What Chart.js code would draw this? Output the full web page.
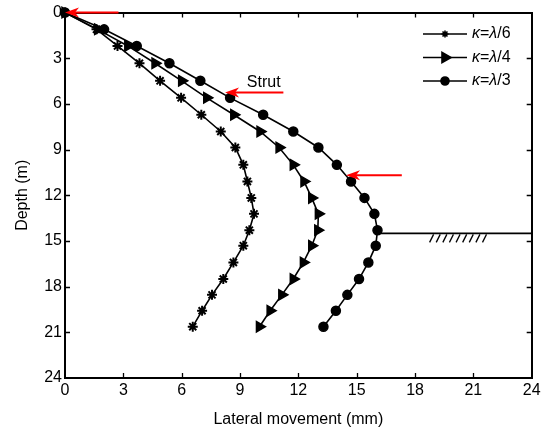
<!DOCTYPE html>
<html>
<head>
<meta charset="utf-8">
<script src="https://cdn.jsdelivr.net/npm/chart.js@4"></script>
<style>
  body { margin: 0; background: #fff; }
  #wrap { width: 548px; height: 429px; }
</style>
</head>
<body>
<div id="wrap"><canvas id="depthChart"></canvas></div>
<script>
// depth below ground (m) of each reading
const depth = [0, 1.10, 2.19, 3.33, 4.48, 5.60, 6.71, 7.81, 8.86, 10.0, 11.09, 12.17, 13.22, 14.29, 15.31, 16.41, 17.50, 18.54, 19.58, 20.63];
// lateral movement (mm) for each case
const kappa6 = [0, 1.62, 2.70, 3.83, 4.89, 5.97, 7.01, 8.01, 8.76, 9.17, 9.38, 9.58, 9.72, 9.48, 9.17, 8.66, 8.14, 7.56, 7.05, 6.57];
const kappa4 = [0, 1.68, 3.23, 4.63, 6.00, 7.29, 8.68, 10.03, 11.01, 11.74, 12.29, 12.69, 13.03, 13.00, 12.69, 12.26, 11.74, 11.15, 10.55, 10.00];
const kappa3 = [0, 2.01, 3.69, 5.37, 6.96, 8.49, 10.19, 11.74, 13.03, 13.98, 14.71, 15.40, 15.91, 16.07, 15.98, 15.60, 15.12, 14.52, 13.93, 13.29];
const seriesNames = ['/6', '/4', '/3'];
const axisTicks = [0, 3, 6, 9, 12, 15, 18, 21, 24];

// excavation base line
const groundDepth = 14.5;
const groundX = [16.07, 24];
// strut arrows: [from x, to x, depth]
const struts = [[2.75, 0, 0], [11.23, 8.23, 5.24], [17.32, 14.45, 10.69]];

const FONT = '"Liberation Sans", Arial, sans-serif';
const toPts = xs => xs.map((v, i) => ({ x: v, y: depth[i] }));

const markers = [
    { pointStyle: 'star', radius: 5, rotation: 0, legendRadius: 3.5, bw: 2 },
    { pointStyle: 'triangle', radius: 6, rotation: 90, legendRadius: 6, bw: 1.5 },
    { pointStyle: 'circle', radius: 4.5, rotation: 0, legendRadius: 4, bw: 1.5 }
];

function makeSet(xs, m) {
    return {
        data: toPts(xs),
        showLine: true,
        borderColor: '#000',
        backgroundColor: '#000',
        borderWidth: 1.6,
        pointStyle: m.pointStyle,
        pointRadius: m.radius,
        pointRotation: m.rotation,
        pointBorderWidth: m.bw,
        tension: 0,
        clip: false
    };
}

const annotations = {
    id: 'annotations',
    afterDraw(chart) {
        const ctx = chart.ctx;
        const xs = chart.scales.x, ys = chart.scales.y;
        const area = chart.chartArea;

        // inward tick marks on all four sides
        ctx.save();
        ctx.strokeStyle = '#000';
        ctx.lineWidth = 1.3;
        axisTicks.slice(1, -1).forEach(v => {
            const px = Math.round(xs.getPixelForValue(v)) + 0.5;
            const py = Math.round(ys.getPixelForValue(v)) + 0.5;
            ctx.beginPath();
            ctx.moveTo(px, area.bottom); ctx.lineTo(px, area.bottom - 5);
            ctx.moveTo(px, area.top); ctx.lineTo(px, area.top + 5);
            ctx.moveTo(area.left, py); ctx.lineTo(area.left + 5, py);
            ctx.moveTo(area.right, py); ctx.lineTo(area.right - 5, py);
            ctx.stroke();
        });

        // hatching under the base line
        const gy = ys.getPixelForValue(groundDepth);
        ctx.lineWidth = 1.3;
        for (let v = 18.75; v <= 21.5; v += 0.34) {
            const px = xs.getPixelForValue(v);
            ctx.beginPath();
            ctx.moveTo(px, gy + 9);
            ctx.lineTo(px + 4, gy + 1);
            ctx.stroke();
        }

        // red arrows
        ctx.strokeStyle = '#ff0000';
        ctx.fillStyle = '#ff0000';
        struts.forEach(([a, b, d]) => {
            const x1 = xs.getPixelForValue(a), x2 = xs.getPixelForValue(b), y = ys.getPixelForValue(d);
            ctx.lineWidth = 2;
            ctx.beginPath();
            ctx.moveTo(x1, y);
            ctx.lineTo(x2 + 8, y);
            ctx.stroke();
            ctx.beginPath();
            ctx.moveTo(x2, y);
            ctx.lineTo(x2 + 14, y - 5);
            ctx.lineTo(x2 + 10, y);
            ctx.lineTo(x2 + 14, y + 5);
            ctx.closePath();
            ctx.fill();
        });

        ctx.fillStyle = '#000';
        ctx.font = '16px ' + FONT;
        ctx.textBaseline = 'alphabetic';
        ctx.fillText('Strut', xs.getPixelForValue(9.35), ys.getPixelForValue(5.24) - 5);

        // legend: line with marker, then label
        const lx0 = 423, lx1 = 467, rows = [34, 57.5, 81];
        chart.data.datasets.slice(0, 3).forEach((ds, i) => {
            const y = rows[i];
            ctx.strokeStyle = '#000';
            ctx.lineWidth = 1.6;
            ctx.beginPath();
            ctx.moveTo(lx0, y);
            ctx.lineTo(lx1, y);
            ctx.stroke();
            ctx.fillStyle = '#000';
            Chart.helpers.drawPoint(ctx, {
                pointStyle: markers[i].pointStyle,
                rotation: markers[i].rotation,
                radius: markers[i].legendRadius,
                borderWidth: 1.5
            }, (lx0 + lx1) / 2, y);
            let tx = 472;
            ctx.textBaseline = 'middle';
            const parts = [['italic ', 'κ'], ['', '='], ['italic ', 'λ'], ['', seriesNames[i]]];
            parts.forEach(([style, t]) => {
                ctx.font = style + '16px ' + FONT;
                ctx.fillText(t, tx, y);
                tx += ctx.measureText(t).width;
            });
        });
        ctx.restore();
    }
};

const tickFont = { family: FONT, size: 16 };
const gridOpts = { display: false, drawTicks: false, tickLength: 0 };
const borderOpts = { display: true, color: '#000', width: 2 };

function initChart() {
    const ctx = document.getElementById('depthChart').getContext('2d');
    new Chart(ctx, {
        type: 'scatter',
        data: {
            datasets: [
                makeSet(kappa6, markers[0]),
                makeSet(kappa4, markers[1]),
                makeSet(kappa3, markers[2]),
                {
                    data: groundX.map(v => ({ x: v, y: groundDepth })),
                    showLine: true,
                    borderColor: '#000',
                    borderWidth: 1.6,
                    pointRadius: 0,
                    clip: false
                }
            ]
        },
        options: {
            responsive: true,
            maintainAspectRatio: false,
            animation: false,
            devicePixelRatio: 1,
            layout: { padding: 0 },
            plugins: { legend: { display: false }, tooltip: { enabled: false } },
            scales: {
                x: {
                    type: 'linear', position: 'bottom', min: 0, max: 24,
                    afterBuildTicks: s => { s.ticks = axisTicks.map(v => ({ value: v })); },
                    ticks: { padding: 3, color: '#000', font: tickFont },
                    grid: gridOpts, border: borderOpts,
                    title: { display: true, text: 'Lateral movement (mm)', color: '#000', font: tickFont, padding: { top: 0, bottom: 0 } },
                    afterFit: s => { s.height = 51; }
                },
                xTop: {
                    type: 'linear', position: 'top', min: 0, max: 24,
                    ticks: { display: false },
                    grid: gridOpts, border: borderOpts,
                    afterFit: s => { s.height = 10.5; }
                },
                y: {
                    type: 'linear', position: 'left', reverse: true, min: 0, max: 24,
                    afterBuildTicks: s => { s.ticks = axisTicks.map(v => ({ value: v })); },
                    ticks: { padding: 3, color: '#000', font: tickFont },
                    grid: gridOpts, border: borderOpts,
                    title: { display: true, text: 'Depth (m)', color: '#000', font: tickFont, padding: { top: 13, bottom: 0 } },
                    afterFit: s => { s.width = 65; }
                },
                yRight: {
                    type: 'linear', position: 'right', reverse: true, min: 0, max: 24,
                    ticks: { display: false },
                    grid: gridOpts, border: borderOpts,
                    afterFit: s => { s.width = 16.3; }
                }
            }
        },
        plugins: [annotations]
    });
}

window.onload = initChart;
</script>
</body>
</html>
